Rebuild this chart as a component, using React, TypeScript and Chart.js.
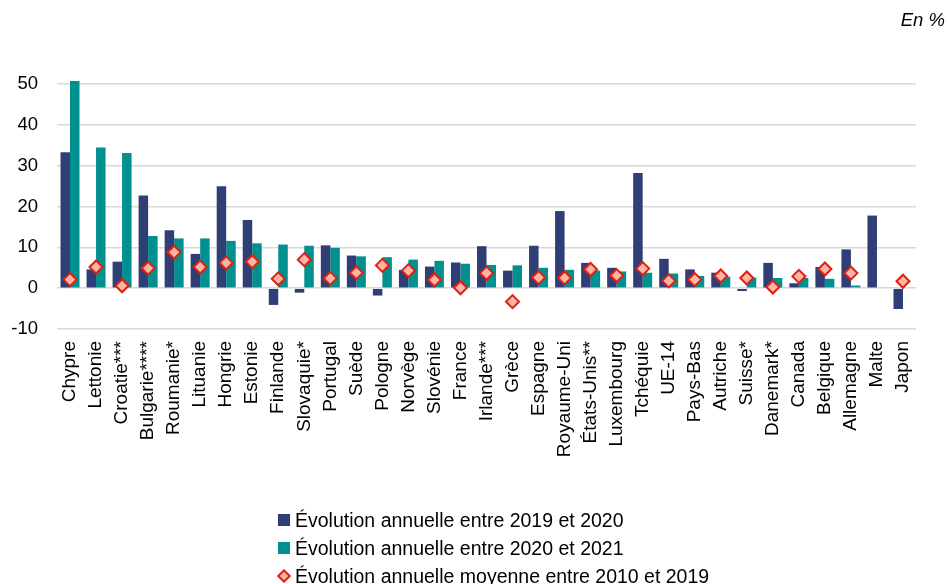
import React, { useEffect, useRef } from "react";
import { Chart, registerables } from "chart.js";

Chart.register(...registerables);

const categories = [
  "Chypre", "Lettonie", "Croatie***", "Bulgarie****", "Roumanie*", "Lituanie", "Hongrie", "Estonie",
  "Finlande", "Slovaquie*", "Portugal", "Suède", "Pologne", "Norvège", "Slovénie", "France",
  "Irlande***", "Grèce", "Espagne", "Royaume-Uni", "États-Unis**", "Luxembourg", "Tchéquie", "UE-14",
  "Pays-Bas", "Autriche", "Suisse*", "Danemark*", "Canada", "Belgique", "Allemagne", "Malte", "Japon",
];

const evol2019_2020 = [
  33.3, 4.6, 6.5, 22.7, 14.2, 8.4, 25.0, 16.7,
  -4.1, -1.1, 10.5, 8.0, -1.8, 4.5, 5.3, 6.3,
  10.3, 4.3, 10.4, 18.9, 6.2, 5.0, 28.2, 7.2,
  4.6, 3.8, -0.7, 6.2, 1.2, 5.2, 9.5, 17.8, -5.1,
];

const evol2020_2021 = [
  50.8, 34.5, 33.1, 12.8, 12.2, 12.2, 11.6, 11.0,
  10.7, 10.4, 9.9, 7.8, 7.6, 7.0, 6.7, 6.0,
  5.7, 5.6, 5.0, 4.5, 4.3, 4.1, 3.8, 3.6,
  3.0, 2.8, 2.6, 2.5, 2.5, 2.3, 0.65, null, null,
];

const evolMoy2010_2019 = [
  2.1, 5.2, 0.6, 4.9, 8.8, 5.2, 6.2, 6.5,
  2.3, 7.0, 2.4, 3.8, 5.6, 4.3, 2.0, 0.1,
  3.7, -3.3, 2.6, 2.5, 4.6, 3.1, 4.8, 1.8,
  2.1, 3.0, 2.5, 0.3, 2.9, 4.7, 3.7, null, 1.7,
];

const yTickValues = [-10, 0, 10, 20, 30, 40, 50];

const legendLabels = [
  "Évolution annuelle entre 2019 et 2020",
  "Évolution annuelle entre 2020 et 2021",
  "Évolution annuelle moyenne entre 2010 et 2019",
];

const NAVY = "#2F3E74";
const TEAL = "#00908F";
const DIAMOND_FILL = "#FBB4A8";
const DIAMOND_BORDER = "#DF200E";
const FONT = "'Liberation Sans', Arial, sans-serif";

export default function App() {
  const canvasRef = useRef<HTMLCanvasElement | null>(null);

  useEffect(() => {
    const canvas = canvasRef.current;
    if (!canvas) return;
    const chart = new Chart(canvas, {
      type: "bar",
      data: {
        labels: categories,
        datasets: [
          {
            type: "line",
            label: legendLabels[2],
            data: evolMoy2010_2019,
            showLine: false,
            pointStyle: "rectRot",
            pointRadius: 6.5,
            pointBorderWidth: 2,
            pointBackgroundColor: DIAMOND_FILL,
            pointBorderColor: DIAMOND_BORDER,
            backgroundColor: DIAMOND_FILL,
            borderColor: DIAMOND_BORDER,
            order: 0,
          } as any,
          {
            label: legendLabels[0],
            data: evol2019_2020,
            backgroundColor: NAVY,
            categoryPercentage: 0.73,
            barPercentage: 1.0,
            order: 2,
          },
          {
            label: legendLabels[1],
            data: evol2020_2021,
            backgroundColor: TEAL,
            categoryPercentage: 0.73,
            barPercentage: 1.0,
            order: 2,
          },
        ],
      },
      options: {
        responsive: false,
        animation: false,
        devicePixelRatio: 1,
        layout: { padding: { left: 0, right: 33, top: 76, bottom: 0 } },
        plugins: {
          legend: { display: false },
          tooltip: { enabled: false },
          title: { display: false },
        },
        scales: {
          x: {
            grid: { display: false, drawTicks: false },
            border: { display: false },
            ticks: {
              autoSkip: false,
              minRotation: 90,
              maxRotation: 90,
              padding: 12,
              color: "#000",
              font: { family: FONT, size: 19 },
            },
            afterFit: (scale: any) => {
              scale.height = 255;
            },
          },
          y: {
            min: -10,
            max: 52,
            ticks: {
              stepSize: 10,
              padding: 19,
              color: "#000",
              font: { family: FONT, size: 18.5 },
            },
            grid: { color: "#D9D9D9", lineWidth: 1.5, drawTicks: false },
            border: { display: false },
            afterBuildTicks: (scale: any) => {
              scale.ticks = yTickValues.map((v) => ({ value: v }));
            },
            afterFit: (scale: any) => {
              scale.width = 57;
            },
          },
        },
      },
    });
    return () => chart.destroy();
  }, []);

  const rowStyle: React.CSSProperties = {
    display: "flex",
    alignItems: "center",
    height: 28,
    whiteSpace: "nowrap",
  };

  const square = (color: string): React.CSSProperties => ({
    width: 12,
    height: 12,
    background: color,
    marginRight: 5,
    flex: "0 0 auto",
  });

  return (
    <div
      style={{
        position: "fixed",
        left: 0,
        top: 0,
        width: 949,
        height: 584,
        background: "#fff",
        fontFamily: FONT,
        overflow: "hidden",
      }}
    >
      <canvas ref={canvasRef} width={949} height={584} style={{ position: "absolute", left: 0, top: 0 }} />
      <div
        style={{
          position: "absolute",
          right: 4,
          top: 9,
          fontStyle: "italic",
          fontSize: 18.5,
          color: "#000",
          lineHeight: "22px",
        }}
      >
        En %
      </div>
      <div
        style={{
          position: "absolute",
          left: 278,
          top: 506,
          fontSize: 19.5,
          color: "#000",
          lineHeight: "28px",
        }}
      >
        <div style={rowStyle}>
          <span style={square(NAVY)} />
          <span>{legendLabels[0]}</span>
        </div>
        <div style={rowStyle}>
          <span style={square(TEAL)} />
          <span>{legendLabels[1]}</span>
        </div>
        <div style={rowStyle}>
          <span
            style={{
              width: 12,
              height: 12,
              marginRight: 5,
              flex: "0 0 auto",
              display: "flex",
              alignItems: "center",
              justifyContent: "center",
            }}
          >
            <span
              style={{
                width: 6,
                height: 6,
                background: DIAMOND_FILL,
                border: `2px solid ${DIAMOND_BORDER}`,
                transform: "rotate(45deg)",
                boxSizing: "content-box",
              }}
            />
          </span>
          <span>{legendLabels[2]}</span>
        </div>
      </div>
    </div>
  );
}
